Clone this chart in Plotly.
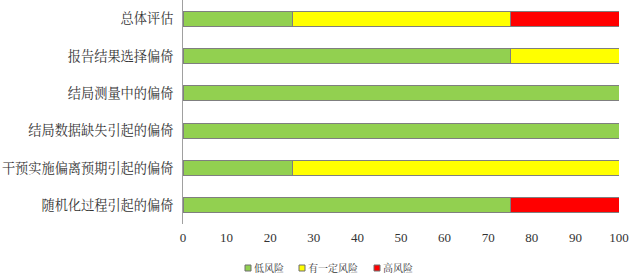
import plotly.graph_objects as go

categories = ["随机化过程引起的偏倚", "干预实施偏离预期引起的偏倚", "结局数据缺失引起的偏倚",
              "结局测量中的偏倚", "报告结果选择偏倚", "总体评估"]
low_risk = [75, 25, 100, 100, 75, 25]
some_risk = [0, 75, 0, 0, 25, 50]
high_risk = [25, 0, 0, 0, 0, 25]
series_names = ["低风险", "有一定风险", "高风险"]
colors = ["#92D050", "#FFFF00", "#FF0000"]
x_ticks = [0, 10, 20, 30, 40, 50, 60, 70, 80, 90, 100]

FONT = "Liberation Serif, Times New Roman, Noto Serif CJK SC, Noto Sans CJK SC, serif"
TXT = "#333333"

W, H = 634, 275
L, R, T, B = 183, 15, 0, 51
pw, ph = W - L - R, H - T - B

def px_x(px):
    return (px - L) / pw

def px_y(py):
    return (H - B - py) / ph

fig = go.Figure()
for name, vals, col in zip(series_names, [low_risk, some_risk, high_risk], colors):
    fig.add_trace(go.Bar(
        y=categories, x=vals, name=name, orientation="h",
        marker=dict(color=col, line=dict(color="#7F7F7F", width=1)),
        showlegend=False,
    ))

# custom legend (small squares + labels), as in the reference
legend_x = [245, 299, 374]
shapes, annotations = [], []
for name, col, lx in zip(series_names, colors, legend_x):
    shapes.append(dict(type="rect", xref="paper", yref="paper",
                       x0=px_x(lx), x1=px_x(lx + 6), y0=px_y(271), y1=px_y(265),
                       fillcolor=col, line=dict(color="#6F6F6F", width=1)))
    annotations.append(dict(text=name, xref="paper", yref="paper", x=px_x(lx + 7),
                            y=px_y(268), xanchor="left", yanchor="middle", showarrow=False,
                            font=dict(size=10, color=TXT, family=FONT)))

fig.update_layout(
    barmode="stack",
    bargap=0.6,
    width=W, height=H,
    margin=dict(l=L, r=R, t=T, b=B, autoexpand=False),
    plot_bgcolor="white", paper_bgcolor="white",
    font=dict(family=FONT, size=13, color=TXT),
    xaxis=dict(range=[0, 100], tickvals=x_ticks, showgrid=False, zeroline=False,
               showline=False, ticks="", automargin=False, ticklabelstandoff=4,
               tickfont=dict(size=13, color=TXT)),
    yaxis=dict(showline=True, linecolor="#A0A0A0", linewidth=1, ticks="",
               showgrid=False, automargin=False, ticklabelstandoff=6,
               tickfont=dict(size=13.2, color=TXT)),
    shapes=shapes, annotations=annotations,
    showlegend=False,
)
fig.write_html("out.html")
